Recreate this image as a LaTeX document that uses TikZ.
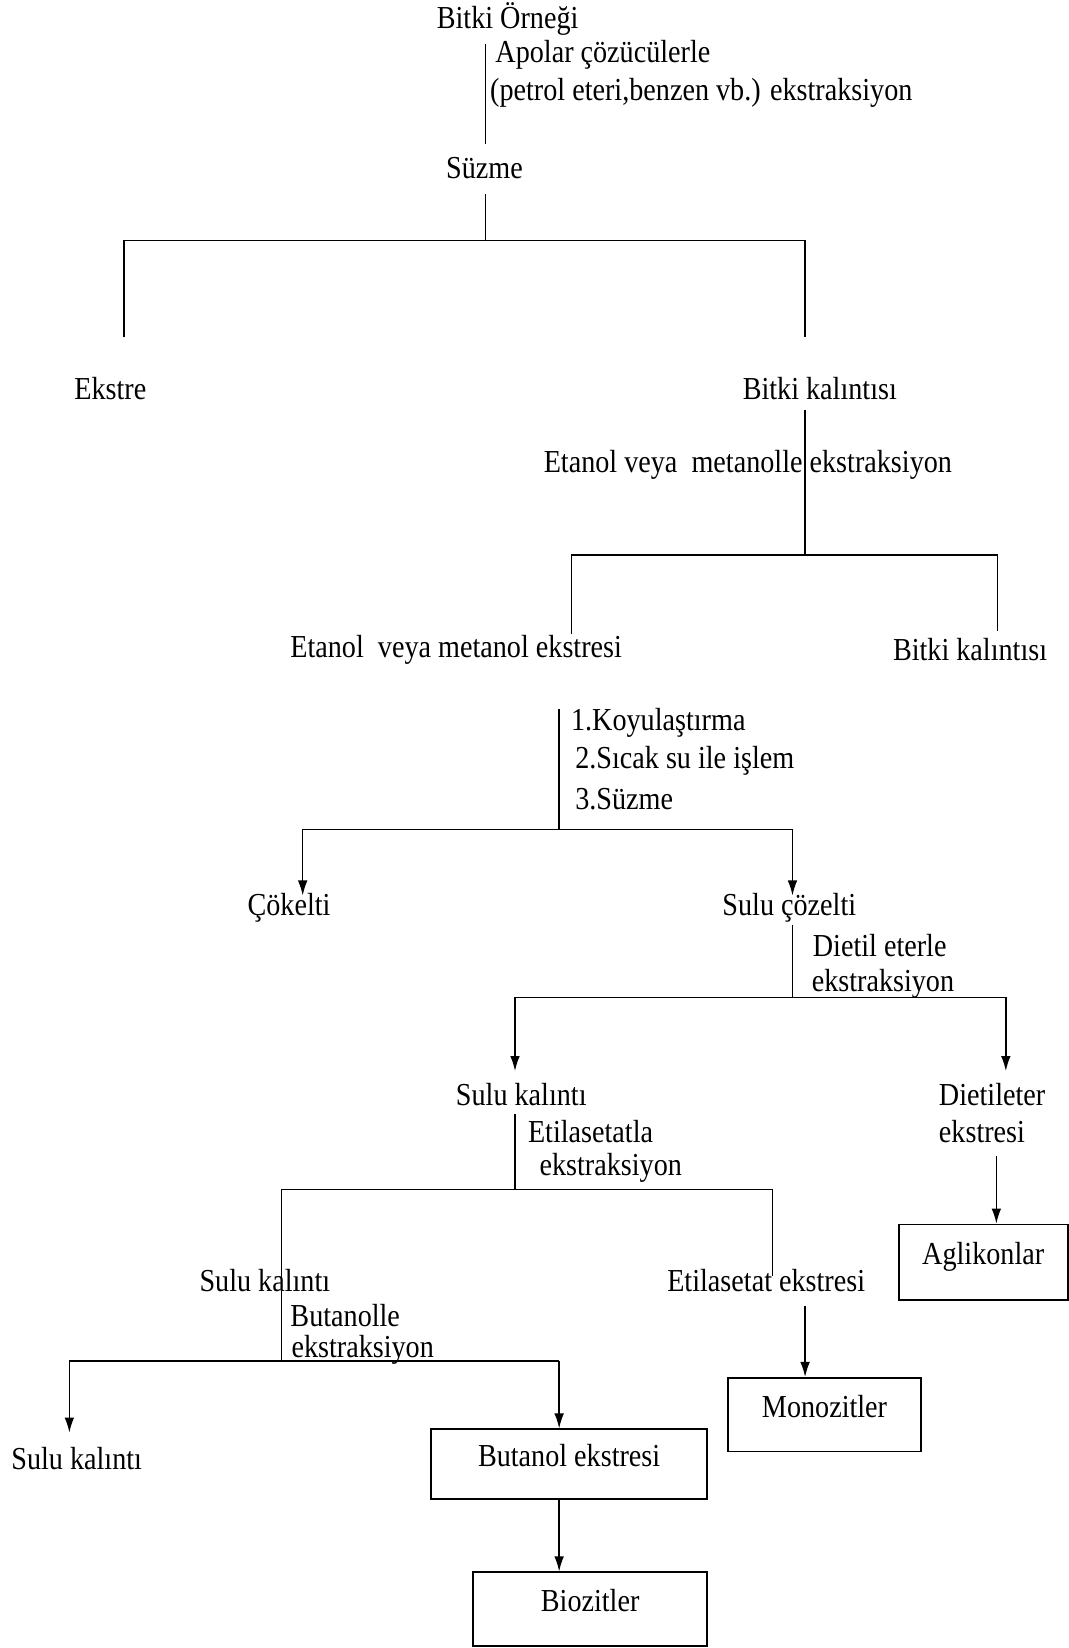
\documentclass[tikz,border=0pt]{standalone}
\usepackage{fontspec}
\setmainfont{Liberation Serif}[FakeStretch=0.88]
\usetikzlibrary{arrows.meta}
\begin{document}
\begin{tikzpicture}[x=0.52555pt,y=-0.52555pt,
  lbl/.style={inner sep=0pt, font=\fontsize{16}{19}\selectfont},
  ln/.style={line width=0.7pt},
  arr/.style={line width=0.7pt,-{Latex[length=7.5pt,width=4.8pt]}},
  boxn/.style={draw, line width=0.9pt, inner sep=0pt, text height=11pt, text depth=8.6pt, font=\fontsize{16}{19}\selectfont}]
\useasboundingbox (0,0) rectangle (1017,1568);
% text nodes
\node[lbl] (t0) at (483,18) {Bitki Örneği};
\node[lbl,anchor=west] (apo) at (471,52) {Apolar çözücülerle};
\node[lbl,anchor=west] (pet) at (466,88) {(petrol eteri,benzen vb.) ekstraksiyon};
\node[lbl] (suz) at (461,160) {Süzme};
\node[lbl] (ekst) at (105,370) {Ekstre};
\node[lbl] (bk1) at (780,370) {Bitki kalıntısı};
\node[lbl,anchor=west] (etm) at (517,442) {Etanol veya\ \ metanolle ekstraksiyon};
\node[lbl] (eme) at (434,618) {Etanol\ \ veya metanol ekstresi};
\node[lbl] (bk2) at (923,618) {Bitki kalıntısı};
\node[lbl,anchor=west] (k1) at (543,688) {1.Koyulaştırma};
\node[lbl,anchor=west] (k2) at (547,724) {2.Sıcak su ile işlem};
\node[lbl,anchor=west] (k3) at (547,760) {3.Süzme};
\node[lbl] (cok) at (275,864) {Çökelti};
\node[lbl] (suc) at (751,864) {Sulu çözelti};
\node[lbl,anchor=west] (de1) at (773,900) {Dietil eterle};
\node[lbl,anchor=west] (de2) at (772,936) {ekstraksiyon};
\node[lbl] (sk1) at (496,1041) {Sulu kalıntı};
\node[lbl,anchor=west] (dee1) at (893,1041) {Dietileter};
\node[lbl,anchor=west] (dee2) at (893,1077) {ekstresi};
\node[lbl,anchor=west] (ea1) at (502,1077) {Etilasetatla};
\node[lbl,anchor=west] (ea2) at (513,1111) {ekstraksiyon};
\node[lbl] (sk2) at (252,1218) {Sulu kalıntı};
\node[lbl] (eae) at (729,1218) {Etilasetat ekstresi};
\node[lbl,anchor=west] (bu1) at (276,1252) {Butanolle};
\node[lbl,anchor=west] (bu2) at (277,1284) {ekstraksiyon};
\node[lbl] (sk3) at (73,1388) {Sulu kalıntı};
% boxes
\node[boxn,minimum width=84.6pt,minimum height=37.8pt] (agl) at (935.5,1201) {Aglikonlar};
\node[boxn,minimum width=96.2pt,minimum height=36.8pt] (mono) at (784.5,1346) {Monozitler};
\node[boxn,minimum width=138.2pt,minimum height=34.7pt] (but) at (541.5,1393) {Butanol ekstresi};
\node[boxn,minimum width=117.2pt,minimum height=36.8pt] (bio) at (561.5,1531) {Biozitler};
% junction coordinates
\coordinate (a1) at (462,42);
\coordinate (a2) at (462,137);
\coordinate (b1) at (462,185);
\coordinate (b2) at (462,229);
\coordinate (bl) at (118,229);
\coordinate (br) at (766,229);
\coordinate (ble) at (118,321);
\coordinate (bre) at (766,321);
\coordinate (c1) at (766,390);
\coordinate (c2) at (766,528);
\coordinate (cl) at (544,528);
\coordinate (cr) at (949,528);
\coordinate (cle) at (544,603);
\coordinate (cre) at (949,600);
\coordinate (d1) at (532,675);
\coordinate (d2) at (532,789);
\coordinate (dl) at (288,789);
\coordinate (dr) at (754,789);
\coordinate (dle) at (288,852);
\coordinate (dre) at (754,852);
\coordinate (e1) at (754,880);
\coordinate (e2) at (754,949);
\coordinate (el) at (490,949);
\coordinate (er) at (957,949);
\coordinate (ele) at (490,1019);
\coordinate (ere) at (957,1019);
\coordinate (f1) at (490,1060);
\coordinate (f2) at (490,1132);
\coordinate (fl) at (268,1132);
\coordinate (fr) at (735,1132);
\coordinate (fre) at (735,1214);
\coordinate (g2) at (268,1295);
\coordinate (gl) at (66,1295);
\coordinate (gr) at (532,1295);
\coordinate (gle) at (66,1363);
\coordinate (h1) at (948,1100);
\coordinate (m1) at (766,1243);
% connectors
\draw[ln] (a1) -- (a2);
\draw[ln] (b1) -- (b2);
\draw[ln] (ble) -- (bl) -- (br) -- (bre);
\draw[ln] (c1) -- (c2);
\draw[ln] (cle) -- (cl) -- (cr) -- (cre);
\draw[ln] (d1) -- (d2);
\draw[ln] (dl) -- (dr);
\draw[arr] (dl) -- (dle);
\draw[arr] (dr) -- (dre);
\draw[ln] (e1) -- (e2);
\draw[ln] (el) -- (er);
\draw[arr] (el) -- (ele);
\draw[arr] (er) -- (ere);
\draw[ln] (f1) -- (f2);
\draw[ln] (fre) -- (fr) -- (fl) -- (g2);
\draw[arr] (h1) -- (h1 |- agl.north);
\draw[arr] (m1) -- (m1 |- mono.north);
\draw[ln] (gl) -- (gr);
\draw[arr] (gl) -- (gle);
\draw[arr] (gr) -- (gr |- but.north);
\draw[arr] (gr |- but.south) -- (gr |- bio.north);
\end{tikzpicture}
\end{document}
